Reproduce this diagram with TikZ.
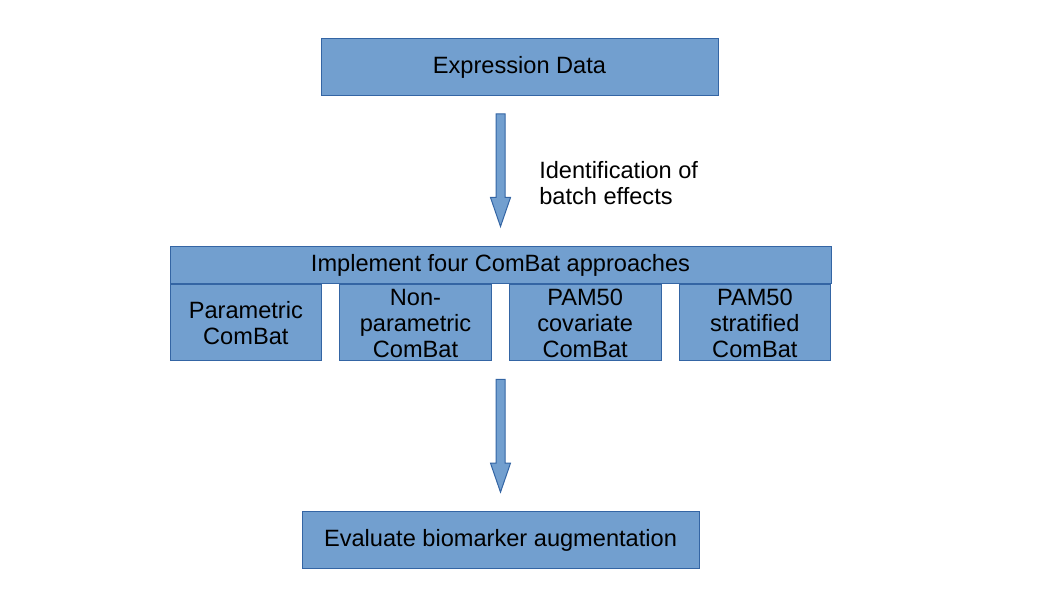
\documentclass[tikz,border=0pt]{standalone}
\usepackage{fontspec}
\setmainfont{Liberation Sans}
\usepackage{tikz}
\usetikzlibrary{positioning,calc}
\definecolor{boxfill}{HTML}{729FCF}
\definecolor{boxline}{HTML}{3465A4}

\begin{document}
\begin{tikzpicture}[
    x=0.75pt, y=-0.75pt,
    node distance=12.75pt,
    box/.style={rectangle, draw=boxline, line width=0.75pt, fill=boxfill, inner sep=0pt, align=center, font=\fontsize{17.7}{19.5}\selectfont},
    wide/.style={box, minimum width=297.75pt, minimum height=42.5pt},
    method/.style={box, minimum width=113.75pt, minimum height=57pt},
    blockarrow/.style={draw=boxline, fill=boxfill, line width=0.75pt, line join=miter}
]
\useasboundingbox (0,0) rectangle (1058,595);

% Input data
\node[wide] (expr) at (519.5,67) {Expression Data};

% ComBat approaches
\node[box, minimum width=495.75pt, minimum height=27.75pt] (implement) at (500.5,265.5) {Implement four ComBat approaches};
\node[method, below right=0pt and 0pt of implement.south west] (param) {Parametric\\ComBat};
\node[method, right=of param] (nonparam) {Non-\\parametric\\ComBat};
\node[method, right=of nonparam] (covar) {PAM50\\covariate\\ComBat};
\node[method, right=of covar] (strat) {PAM50\\stratified\\ComBat};

% Evaluation
\node[wide] (evaluate) at (500.5,540) {Evaluate biomarker augmentation};

% Block arrows
\coordinate (a1start) at ($(expr.south -| implement.north)+(0,18)$);
\coordinate (a1end) at ($(implement.north)+(0,-20)$);
\coordinate (a2start) at ($(param.south -| implement.north)+(0,18)$);
\coordinate (a2end) at ($(evaluate.north)+(0,-19)$);

\draw[blockarrow] ($(a1start)+(-4.5,0)$) -- ($(a1start)+(4.5,0)$) -- ($(a1end)+(4.5,-29)$) -- ($(a1end)+(10,-29)$)
    -- (a1end) -- ($(a1end)+(-10,-29)$) -- ($(a1end)+(-4.5,-29)$) -- cycle;
\draw[blockarrow] ($(a2start)+(-4.5,0)$) -- ($(a2start)+(4.5,0)$) -- ($(a2end)+(4.5,-29)$) -- ($(a2end)+(10,-29)$)
    -- (a2end) -- ($(a2end)+(-10,-29)$) -- ($(a2end)+(-4.5,-29)$) -- cycle;

\node[anchor=west, align=left, inner sep=0pt, font=\fontsize{17.7}{19.5}\selectfont] (batchlbl) at (539,183) {Identification of\\batch effects};

\end{tikzpicture}
\end{document}
